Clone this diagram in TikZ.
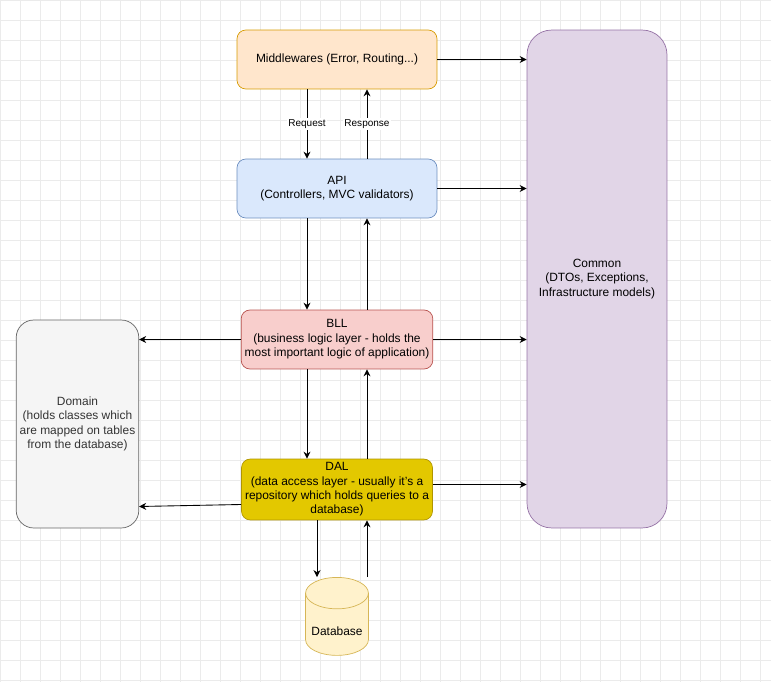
\documentclass[tikz,border=0pt]{standalone}
\usepackage{fontspec}
\setmainfont{Liberation Sans}
\usetikzlibrary{shapes.geometric,arrows.meta}
\definecolor{mwfill}{HTML}{FFE6CC}\definecolor{mwdraw}{HTML}{D79B00}
\definecolor{apifill}{HTML}{DAE8FC}\definecolor{apidraw}{HTML}{6C8EBF}
\definecolor{bllfill}{HTML}{F8CECC}\definecolor{blldraw}{HTML}{B85450}
\definecolor{dalfill}{HTML}{E3C800}\definecolor{daldraw}{HTML}{B09500}
\definecolor{domfill}{HTML}{F5F5F5}\definecolor{domdraw}{HTML}{666666}
\definecolor{comfill}{HTML}{E1D5E7}\definecolor{comdraw}{HTML}{9673A6}
\definecolor{dbfill}{HTML}{FFF2CC}\definecolor{dbdraw}{HTML}{D6B656}
\tikzset{
  box/.style={draw, rounded corners=5pt, align=center, inner sep=2pt,
    font=\fontsize{6.8}{8.2}\selectfont},
  arr/.style={-{Stealth[length=4pt,width=4pt]}, line width=0.5pt},
  lbl/.style={fill=white, inner sep=1pt, font=\fontsize{5.7}{7}\selectfont}
}
\begin{document}
\begin{tikzpicture}[x=0.02cm,y=-0.02cm]
  \useasboundingbox (0,0) rectangle (771,682);
  \draw[black!8, line width=0.3pt, step=0.4cm] (0,0) grid (771,682);
  \node[box, fill=mwfill, draw=mwdraw, minimum width=4cm, minimum height=1.18cm] (mw) at (337,59.5) {Middlewares (Error, Routing...)};
  \node[box, fill=apifill, draw=apidraw, minimum width=4cm, minimum height=1.18cm] (api) at (337,188.5) {API\\(Controllers, MVC validators)};
  \node[box, fill=bllfill, draw=blldraw, minimum width=3.8cm, minimum height=1.18cm] (bll) at (337,339.5) {BLL\\(business logic layer - holds the\\most important logic of application)};
  \node[box, fill=dalfill, draw=daldraw, minimum width=3.8cm, minimum height=1.18cm] (dal) at (337,489.5) {DAL\\(data access layer - usually it's a\\repository which holds queries to a\\database)};
  \node[box, rounded corners=10pt, fill=domfill, draw=domdraw, text=black!80, minimum width=2.38cm, minimum height=4.16cm] (dom) at (77.5,424) {Domain\\(holds classes which\\are mapped on tables\\from the database)};
  \node[box, rounded corners=14pt, fill=comfill, draw=comdraw, minimum width=2.8cm, minimum height=9.96cm] (com) at (597,279) {Common\\(DTOs, Exceptions,\\Infrastructure models)};
  \node[cylinder, shape border rotate=90, draw=dbdraw, fill=dbfill, minimum width=1.2cm, minimum height=1.56cm, aspect=0.5, font=\fontsize{6.8}{8.2}\selectfont] (db) at (337,629) {\raisebox{-8pt}{Database}};
  % right side
  \draw[arr] (mw.east) -- (mw.east -| com.west);
  \draw[arr] (api.east) -- (api.east -| com.west);
  \draw[arr] (bll.east) -- (bll.east -| com.west);
  \draw[arr] ([yshift=0.1cm]dal.east) -- ([yshift=0.1cm]dal.east -| com.west);
  % left side
  \draw[arr] (bll.west) -- (bll.west -| dom.east);
  \draw[arr] ([yshift=-0.3cm]dal.west) -- ([yshift=-0.34cm]dal.west -| dom.east);
  % vertical
  \draw[arr] ([xshift=-0.6cm]mw.south) -- node[lbl]{Request} ([xshift=-0.6cm]api.north);
  \draw[arr] ([xshift=0.6cm]api.north) -- node[lbl]{Response} ([xshift=0.6cm]mw.south);
  \draw[arr] ([xshift=-0.6cm]api.south) -- ([xshift=-0.6cm]bll.north);
  \draw[arr] ([xshift=0.6cm]bll.north) -- ([xshift=0.6cm]api.south);
  \draw[arr] ([xshift=-0.6cm]bll.south) -- ([xshift=-0.6cm]dal.north);
  \draw[arr] ([xshift=0.6cm]dal.north) -- ([xshift=0.6cm]bll.south);
  \draw[arr] ([xshift=-0.4cm]dal.south) -- ([xshift=-0.4cm]dal.south |- db.north);
  \draw[arr] ([xshift=0.6cm]dal.south |- db.north) -- ([xshift=0.6cm]dal.south);
\end{tikzpicture}
\end{document}
